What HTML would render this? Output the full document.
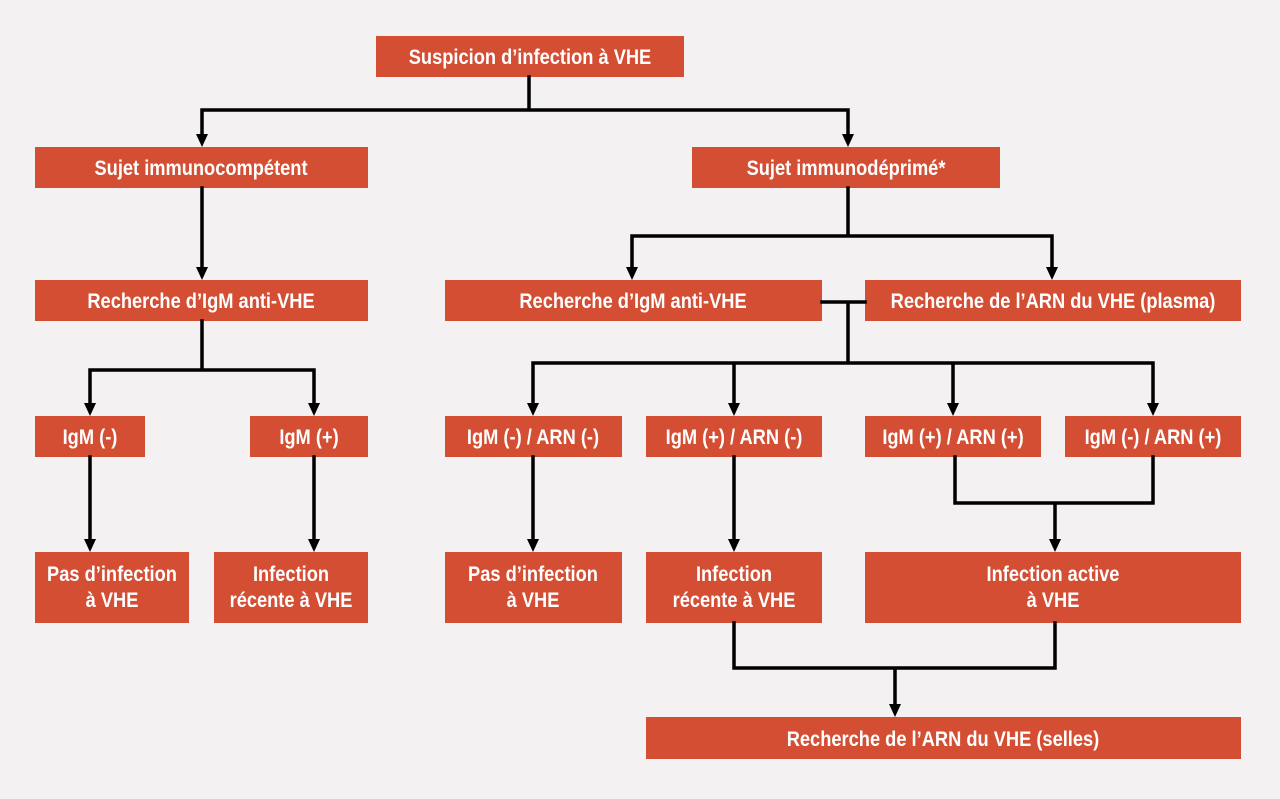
<!DOCTYPE html>
<html><head><meta charset="utf-8"><style>
html,body{margin:0;padding:0;background:#f3f1f2;}
svg{display:block}
text{font-family:"Liberation Sans Narrow","Liberation Sans",sans-serif;font-weight:bold;font-size:21px;fill:#fff;text-anchor:middle;transform-box:fill-box;transform-origin:center;transform:scaleX(0.87)}
</style></head><body>
<svg width="1280" height="799" viewBox="0 0 1280 799" xmlns="http://www.w3.org/2000/svg">
<rect width="1280" height="799" fill="#f3f1f2"/>
<g fill="#d44e34">
<rect x="376" y="36" width="308" height="41"/>
<rect x="35" y="147" width="333" height="41"/>
<rect x="692" y="147" width="308" height="41"/>
<rect x="35" y="280" width="333" height="41"/>
<rect x="445" y="280" width="377" height="41"/>
<rect x="865" y="280" width="376" height="41"/>
<rect x="35" y="416" width="110" height="41"/>
<rect x="250" y="416" width="118" height="41"/>
<rect x="445" y="416" width="177" height="41"/>
<rect x="646" y="416" width="176" height="41"/>
<rect x="865" y="416" width="176" height="41"/>
<rect x="1065" y="416" width="176" height="41"/>
<rect x="35" y="552" width="154" height="71"/>
<rect x="214" y="552" width="154" height="71"/>
<rect x="445" y="552" width="177" height="71"/>
<rect x="646" y="552" width="176" height="71"/>
<rect x="865" y="552" width="376" height="71"/>
<rect x="646" y="717" width="595" height="42"/>
</g>
<g stroke="#000" stroke-width="3.5" fill="none" stroke-linecap="square">
<path d="M529 77V110M202 110H848M202 110V134M848 110V134"/>
<path d="M202 188V267"/>
<path d="M848 188V236M632 236H1052M632 236V267M1052 236V267"/>
<path d="M202 321V370M90 370H314M90 370V403M314 370V403"/>
<path d="M90 457V539M314 457V539"/>
<path d="M822 302H865M848 302V363M533 363H1153M533 363V403M734 363V403M953 363V403M1153 363V403"/>
<path d="M533 457V539M734 457V539"/>
<path d="M955 457V503H1153V457M1055 503V539"/>
<path d="M734 623V668H1055V623M895 668V704"/>
</g>
<g fill="#000">
<path d="M196 134h12l-6 13z"/><path d="M842 134h12l-6 13z"/>
<path d="M196 267h12l-6 13z"/>
<path d="M626 267h12l-6 13z"/><path d="M1046 267h12l-6 13z"/>
<path d="M84 403h12l-6 13z"/><path d="M308 403h12l-6 13z"/>
<path d="M527 403h12l-6 13z"/><path d="M728 403h12l-6 13z"/><path d="M947 403h12l-6 13z"/><path d="M1147 403h12l-6 13z"/>
<path d="M84 539h12l-6 13z"/><path d="M308 539h12l-6 13z"/>
<path d="M527 539h12l-6 13z"/><path d="M728 539h12l-6 13z"/><path d="M1049 539h12l-6 13z"/>
<path d="M889 704h12l-6 13z"/>
</g>
<text x="530" y="64">Suspicion d’infection à VHE</text>
<text x="201" y="175">Sujet immunocompétent</text>
<text x="846" y="175">Sujet immunodéprimé*</text>
<text x="201" y="308">Recherche d’IgM anti-VHE</text>
<text x="633" y="308">Recherche d’IgM anti-VHE</text>
<text x="1053" y="308">Recherche de l’ARN du VHE (plasma)</text>
<text x="90" y="444">IgM (-)</text>
<text x="309" y="444">IgM (+)</text>
<text x="533" y="444">IgM (-) / ARN (-)</text>
<text x="734" y="444">IgM (+) / ARN (-)</text>
<text x="953" y="444">IgM (+) / ARN (+)</text>
<text x="1153" y="444">IgM (-) / ARN (+)</text>
<text x="112" y="581">Pas d’infection</text><text x="112" y="607">à VHE</text>
<text x="291" y="581">Infection</text><text x="291" y="607">récente à VHE</text>
<text x="533" y="581">Pas d’infection</text><text x="533" y="607">à VHE</text>
<text x="734" y="581">Infection</text><text x="734" y="607">récente à VHE</text>
<text x="1053" y="581">Infection active</text><text x="1053" y="607">à VHE</text>
<text x="943" y="746">Recherche de l’ARN du VHE (selles)</text>
</svg>
</body></html>
